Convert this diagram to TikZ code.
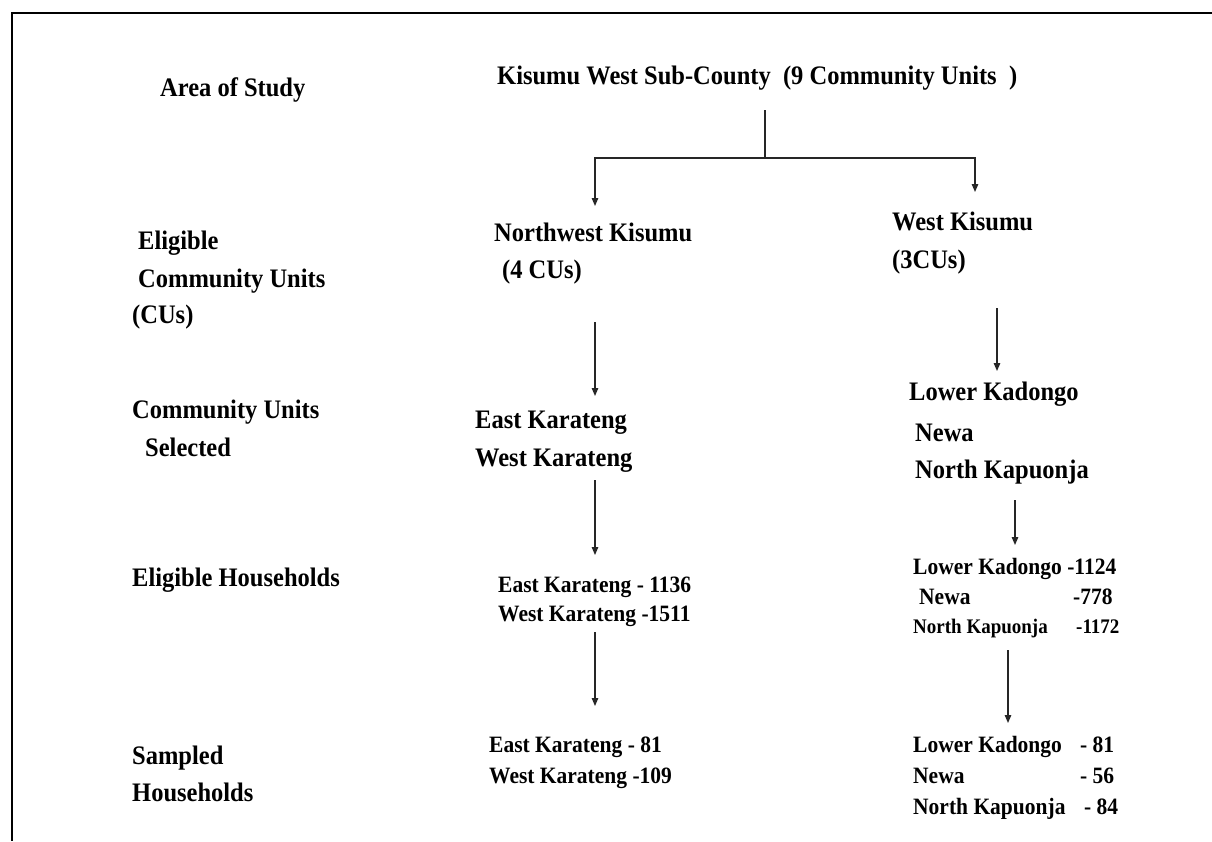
\documentclass[tikz,border=0pt]{standalone}
\usepackage{graphicx}
\usepackage{fontspec}
\setmainfont{Liberation Serif}
\usetikzlibrary{arrows.meta}
\newcommand\ystr[1]{\scalebox{1}[1.09]{#1}}
\tikzset{
  txt/.style={anchor=base west, inner sep=0pt, font=\bfseries\fontsize{24.5}{29}\selectfont},
  txtm/.style={anchor=base west, inner sep=0pt, font=\bfseries\fontsize{21.5}{26}\selectfont},
  txts/.style={anchor=base west, inner sep=0pt, font=\bfseries\fontsize{19}{23}\selectfont},
  conn/.style={draw=black!85, line width=1.2pt},
  arr/.style={conn, -{Triangle[length=8pt,width=6.5pt]}},
  frame/.style={draw=black, line width=2.6pt}
}
\begin{document}
\begin{tikzpicture}[x=1pt,y=-1pt]
\useasboundingbox (0,0) rectangle (1212,841);
\fill[white] (0,0) rectangle (1212,841);
% frame (top and left)
\coordinate (fr1) at (1212,13);
\coordinate (fr2) at (12,13);
\coordinate (fr3) at (12,841);
\draw[frame] (fr1) -- (fr2) -- (fr3);

% left labels
\node[txt] (l1) at (160,96) {\ystr{Area of Study}};
\node[txt] (l2a) at (138,249) {\ystr{Eligible}};
\node[txt] (l2b) at (138,287) {\ystr{Community Units}};
\node[txt] (l2c) at (132,323) {\ystr{(CUs)}};
\node[txt] (l3a) at (132,418) {\ystr{Community Units}};
\node[txt] (l3b) at (145,456) {\ystr{Selected}};
\node[txt] (l4) at (132,586) {\ystr{Eligible Households}};
\node[txt] (l5a) at (132,764) {\ystr{Sampled}};
\node[txt] (l5b) at (132,801) {\ystr{Households}};

% top
\node[txt] (top) at (497,84) {\ystr{Kisumu West Sub-County\ \ (9 Community Units\ \ )}};

% middle column
\node[txt] (nw1) at (494,241) {\ystr{Northwest Kisumu}};
\node[txt] (nw2) at (502,278) {\ystr{(4 CUs)}};
\node[txt] (ek1) at (475,428) {\ystr{East Karateng}};
\node[txt] (wk1) at (475,466) {\ystr{West Karateng}};
\node[txtm] (ek2) at (498,592) {\ystr{East Karateng - 1136}};
\node[txtm] (wk2) at (498,621) {\ystr{West Karateng -1511}};
\node[txtm] (ek3) at (489,752) {\ystr{East Karateng - 81}};
\node[txtm] (wk3) at (489,783) {\ystr{West Karateng -109}};

% right column
\node[txt] (wks1) at (892,230) {\ystr{West Kisumu}};
\node[txt] (wks2) at (892,268) {\ystr{(3CUs)}};
\node[txt] (lk1) at (909,400) {\ystr{Lower Kadongo}};
\node[txt] (nv1) at (915,441) {\ystr{Newa}};
\node[txt] (nk1) at (915,478) {\ystr{North Kapuonja}};
\node[txtm] (lk2) at (913,574) {\ystr{Lower Kadongo -1124}};
\node[txtm] (nv2) at (919,604) {\ystr{\makebox[154pt][l]{Newa}-778}};
\node[txts] (nk2) at (913,633) {\ystr{\makebox[163pt][l]{North Kapuonja}-1172}};
\node[txtm] (lk3) at (913,752) {\ystr{\makebox[167pt][l]{Lower Kadongo}- 81}};
\node[txtm] (nv3) at (913,783) {\ystr{\makebox[167pt][l]{Newa}- 56}};
\node[txtm] (nk3) at (913,814) {\ystr{\makebox[171pt][l]{North Kapuonja}- 84}};

% tree connector
\coordinate (t0) at (765,110);
\coordinate (t1) at (765,158);
\coordinate (tl) at (595,158);
\coordinate (tr) at (975,158);
\coordinate (tle) at (595,206);
\coordinate (tre) at (975,192);
\draw[conn] (t0) -- (t1);
\draw[arr] (t1) -- (tl) -- (tle);
\draw[arr] (t1) -- (tr) -- (tre);

% middle arrows
\coordinate (m1s) at (595,322);
\coordinate (m1e) at (595,396);
\coordinate (m2s) at (595,480);
\coordinate (m2e) at (595,555);
\coordinate (m3s) at (595,632);
\coordinate (m3e) at (595,706);
\draw[arr] (m1s) -- (m1e);
\draw[arr] (m2s) -- (m2e);
\draw[arr] (m3s) -- (m3e);

% right arrows
\coordinate (r1s) at (997,308);
\coordinate (r1e) at (997,371);
\coordinate (r2s) at (1015,500);
\coordinate (r2e) at (1015,545);
\coordinate (r3s) at (1008,650);
\coordinate (r3e) at (1008,723);
\draw[arr] (r1s) -- (r1e);
\draw[arr] (r2s) -- (r2e);
\draw[arr] (r3s) -- (r3e);
\end{tikzpicture}
\end{document}
